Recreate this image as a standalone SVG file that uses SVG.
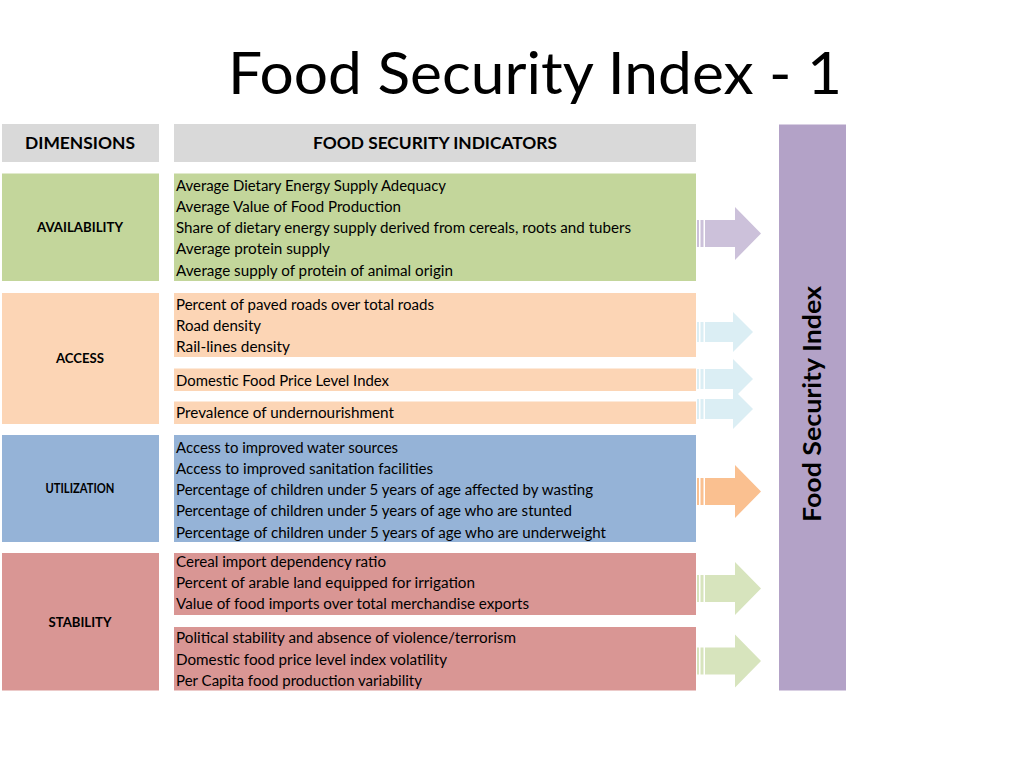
<svg xmlns="http://www.w3.org/2000/svg" width="1024" height="768" viewBox="0 0 1024 768">
<style>
.title{font-family:Lato,"Open Sans",sans-serif;font-size:58px;fill:#000}
.hdr{font-family:Lato,"Open Sans",sans-serif;font-size:17px;font-weight:bold;fill:#000;text-anchor:middle}
.dim{font-family:Lato,"Open Sans",sans-serif;font-size:14px;font-weight:bold;fill:#000;text-anchor:middle}
.ind{font-family:Lato,"Open Sans",sans-serif;font-size:14.5px;fill:#000}
.idx{font-family:Lato,"Open Sans",sans-serif;font-size:24px;font-weight:bold;fill:#000;text-anchor:middle}
.gray{fill:#D9D9D9}.green{fill:#C3D69B}.peach{fill:#FCD5B5}.blue{fill:#95B3D7}.red{fill:#D99694}.purple{fill:#B3A2C7}
</style>
<defs>
<path id="bigArrow" d="M697,-13.5h2v27h-2z M700.5,-13.5h3v27h-3z M705,-13.5H735V-26.5L761,0L735,26.5V13.5H705z"/>
<path id="smallArrow" d="M697,-10h2v20h-2z M700.5,-10h3v20h-3z M705,-10H733V-20L753,0L733,20V10H705z"/>
</defs>
<rect width="1024" height="768" fill="#fff"/>
<text class="title" x="228" y="94" textLength="614" lengthAdjust="spacingAndGlyphs">Food Security Index - 1</text>

<g id="header-dimensions">
<rect class="gray" x="2" y="124" width="157" height="38"/>
<text class="hdr" x="80" y="148.5" textLength="110" lengthAdjust="spacingAndGlyphs">DIMENSIONS</text>
</g>
<g id="header-indicators">
<rect class="gray" x="174" y="124" width="522" height="38"/>
<text class="hdr" x="435" y="148.5" textLength="244" lengthAdjust="spacingAndGlyphs">FOOD SECURITY INDICATORS</text>
</g>

<g id="availability">
<rect class="green" x="2" y="173.5" width="157" height="107.5"/>
<text class="dim" x="80" y="232" textLength="86" lengthAdjust="spacingAndGlyphs">AVAILABILITY</text>
</g>
<g id="availability-indicators">
<rect class="green" x="174" y="173.5" width="522" height="107.5"/>
<text class="ind" x="176" y="190.5" textLength="270" lengthAdjust="spacingAndGlyphs">Average Dietary Energy Supply Adequacy</text>
<text class="ind" x="176" y="211.8" textLength="225" lengthAdjust="spacingAndGlyphs">Average Value of Food Production</text>
<text class="ind" x="176" y="233.1" textLength="455" lengthAdjust="spacingAndGlyphs">Share of dietary energy supply derived from cereals, roots and tubers</text>
<text class="ind" x="176" y="254.4" textLength="154" lengthAdjust="spacingAndGlyphs">Average protein supply</text>
<text class="ind" x="176" y="275.7" textLength="277" lengthAdjust="spacingAndGlyphs">Average supply of protein of animal origin</text>
</g>

<g id="access">
<rect class="peach" x="2" y="293" width="157" height="131"/>
<text class="dim" x="80" y="363" textLength="48" lengthAdjust="spacingAndGlyphs">ACCESS</text>
</g>
<g id="access-indicators-1">
<rect class="peach" x="174" y="293" width="522" height="64"/>
<text class="ind" x="176" y="309.8" textLength="258" lengthAdjust="spacingAndGlyphs">Percent of paved roads over total roads</text>
<text class="ind" x="176" y="331" textLength="85" lengthAdjust="spacingAndGlyphs">Road density</text>
<text class="ind" x="176" y="352.2" textLength="114" lengthAdjust="spacingAndGlyphs">Rail-lines density</text>
</g>
<g id="access-indicators-2">
<rect class="peach" x="174" y="368.5" width="522" height="22.5"/>
<text class="ind" x="176" y="385.5" textLength="213" lengthAdjust="spacingAndGlyphs">Domestic Food Price Level Index</text>
</g>
<g id="access-indicators-3">
<rect class="peach" x="174" y="401.5" width="522" height="22.5"/>
<text class="ind" x="176" y="418" textLength="218" lengthAdjust="spacingAndGlyphs">Prevalence of undernourishment</text>
</g>

<g id="utilization">
<rect class="blue" x="2" y="435" width="157" height="107"/>
<text class="dim" x="80" y="493" textLength="69" lengthAdjust="spacingAndGlyphs">UTILIZATION</text>
</g>
<g id="utilization-indicators">
<rect class="blue" x="174" y="435" width="522" height="107"/>
<text class="ind" x="176" y="452.5" textLength="222" lengthAdjust="spacingAndGlyphs">Access to improved water sources</text>
<text class="ind" x="176" y="473.8" textLength="257" lengthAdjust="spacingAndGlyphs">Access to improved sanitation facilities</text>
<text class="ind" x="176" y="495.1" textLength="417" lengthAdjust="spacingAndGlyphs">Percentage of children under 5 years of age affected by wasting</text>
<text class="ind" x="176" y="516.4" textLength="396" lengthAdjust="spacingAndGlyphs">Percentage of children under 5 years of age who are stunted</text>
<text class="ind" x="176" y="537.7" textLength="430" lengthAdjust="spacingAndGlyphs">Percentage of children under 5 years of age who are underweight</text>
</g>

<g id="stability">
<rect class="red" x="2" y="553" width="157" height="137.5"/>
<text class="dim" x="80" y="627" textLength="63" lengthAdjust="spacingAndGlyphs">STABILITY</text>
</g>
<g id="stability-indicators-1">
<rect class="red" x="174" y="553" width="522" height="62"/>
<text class="ind" x="176" y="566.5" textLength="210" lengthAdjust="spacingAndGlyphs">Cereal import dependency ratio</text>
<text class="ind" x="176" y="587.8" textLength="299" lengthAdjust="spacingAndGlyphs">Percent of arable land equipped for irrigation</text>
<text class="ind" x="176" y="609.1" textLength="353" lengthAdjust="spacingAndGlyphs">Value of food imports over total merchandise exports</text>
</g>
<g id="stability-indicators-2">
<rect class="red" x="174" y="627" width="522" height="63.5"/>
<text class="ind" x="176" y="643.3" textLength="340" lengthAdjust="spacingAndGlyphs">Political stability and absence of violence/terrorism</text>
<text class="ind" x="176" y="664.6" textLength="271" lengthAdjust="spacingAndGlyphs">Domestic food price level index volatility</text>
<text class="ind" x="176" y="685.9" textLength="246" lengthAdjust="spacingAndGlyphs">Per Capita food production variability</text>
</g>

<g id="connectors">
<use href="#bigArrow" transform="translate(0,233.5)" fill="#CCC1DA"/>
<use href="#smallArrow" transform="translate(0,332)" fill="#DBEEF4"/>
<use href="#smallArrow" transform="translate(0,409)" fill="#DBEEF4"/>
<use href="#smallArrow" transform="translate(0,379)" fill="#DBEEF4"/>
<use href="#bigArrow" transform="translate(0,491.5)" fill="#FAC090"/>
<use href="#bigArrow" transform="translate(0,588.5)" fill="#D7E4BD"/>
<use href="#bigArrow" transform="translate(0,661)" fill="#D7E4BD"/>
</g>

<g id="food-security-index">
<rect class="purple" x="779" y="124.5" width="67" height="566"/>
<text class="idx" transform="translate(821,404) rotate(-90)" textLength="236" lengthAdjust="spacingAndGlyphs">Food Security Index</text>
</g>
</svg>
